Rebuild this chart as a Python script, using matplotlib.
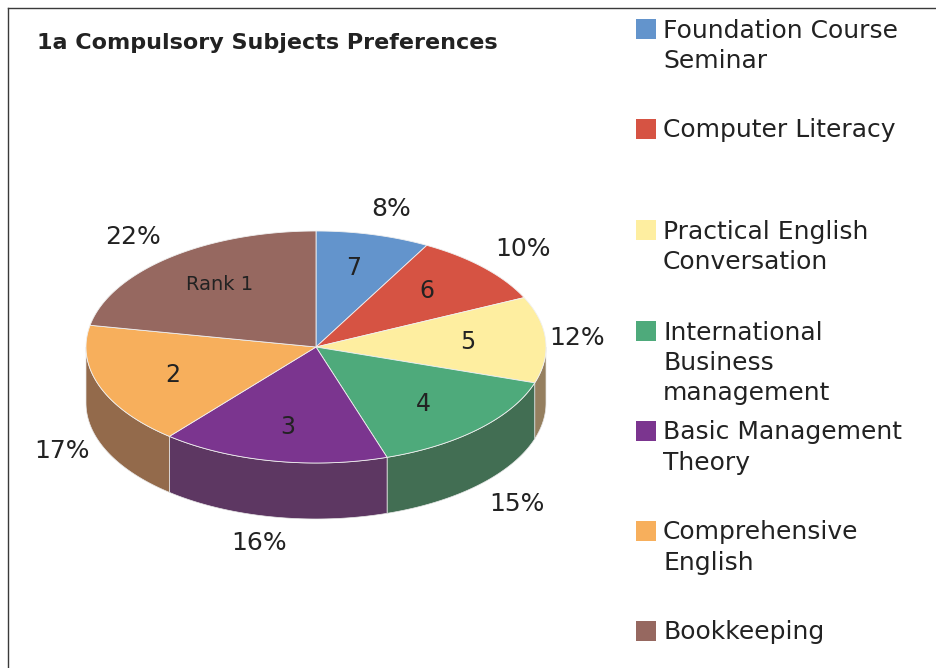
import numpy as np
import matplotlib
matplotlib.use("Agg")
import matplotlib.pyplot as plt
from matplotlib.patches import Polygon, Rectangle

# ---- data ----
title = "1a Compulsory Subjects Preferences"
subjects = ["Foundation Course\nSeminar", "Computer Literacy",
            "Practical English\nConversation",
            "International\nBusiness\nmanagement",
            "Basic Management\nTheory", "Comprehensive\nEnglish", "Bookkeeping"]
shares = [8, 10, 12, 15, 16, 17, 22]
ranks = ["7", "6", "5", "4", "3", "2", "Rank 1"]
top_colors = ["#6394cc", "#d65343", "#feeea0", "#4eaa7b", "#7b358f", "#f7af5c", "#966860"]
side_colors = ["#4a6f99", "#a03e32", "#957f5f", "#426e53", "#5d3762", "#936a4b", "#704e48"]
legend_tops = [20, 120, 221, 322, 422, 522, 622]

W, H = 936, 668
fig = plt.figure(figsize=(W / 100, H / 100), dpi=100)
ax = fig.add_axes([0, 0, 1, 1])
ax.set_xlim(0, W)
ax.set_ylim(H, 0)
ax.axis("off")

# frame (top and left)
ax.plot([8, W], [8, 8], color="#3a3a3a", lw=1.0)
ax.plot([8, 8], [8, H], color="#3a3a3a", lw=1.0)

ax.text(37, 43, title, fontsize=16, fontweight="bold", color="#222222",
        va="center", ha="left", family="DejaVu Sans")

# ---- pseudo-3D pie ----
cx, cy, rx, ry, depth = 316, 347, 230, 116, 56
total = float(sum(shares))
bounds = np.concatenate([[0], np.cumsum(shares)]) / total * 360.0  # clockwise from top

# side walls (front half: clockwise angle 90..270)
for i in range(len(shares)):
    lo, hi = max(bounds[i], 90), min(bounds[i + 1], 270)
    if hi <= lo:
        continue
    a = np.linspace(lo, hi, 80)
    t = 90 - a
    xs = cx + rx * np.cos(np.radians(t))
    ys = cy - ry * np.sin(np.radians(t))
    poly = np.vstack([np.column_stack([xs, ys]),
                      np.column_stack([xs[::-1], ys[::-1] + depth])])
    ax.add_patch(Polygon(poly, closed=True, facecolor=side_colors[i],
                         edgecolor="#e8e8e8", lw=0.5, zorder=2))

# top faces
for i in range(len(shares)):
    a = np.linspace(bounds[i], bounds[i + 1], 120)
    t = 90 - a
    xs = cx + rx * np.cos(np.radians(t))
    ys = cy - ry * np.sin(np.radians(t))
    poly = np.vstack([[cx, cy], np.column_stack([xs, ys])])
    ax.add_patch(Polygon(poly, closed=True, facecolor=top_colors[i],
                         edgecolor="#f0f0f0", lw=0.6, zorder=3))

# labels
for i in range(len(shares)):
    mid = (bounds[i] + bounds[i + 1]) / 2
    t = np.radians(90 - mid)
    # inside rank label
    ix = cx + 0.66 * rx * np.cos(t)
    iy = cy - 0.70 * ry * np.sin(t)
    fs = 14 if len(ranks[i]) > 2 else 17
    ax.text(ix, iy, ranks[i], fontsize=fs, color="#222222", ha="center",
            va="center", zorder=5)
    # outside percentage
    kx = 1.21 + 0.12 * abs(np.sin(t)) - 0.08 * abs(np.cos(t))
    ox = cx + kx * rx * np.cos(t)
    oy = cy - 1.23 * ry * np.sin(t) + (depth if np.sin(t) < 0 else 0)
    ax.text(ox, oy, f"{shares[i]}%", fontsize=18, color="#222222",
            ha="center", va="center", zorder=5)

# legend
for i, name in enumerate(subjects):
    y0 = legend_tops[i]
    ax.add_patch(Rectangle((636, y0 - 1), 20, 20, facecolor=top_colors[i],
                           edgecolor="none"))
    ax.text(663, y0 - 1.5, name, fontsize=18, color="#222222", ha="left",
            va="top", linespacing=1.33)

fig.savefig("out.png", dpi=100)
